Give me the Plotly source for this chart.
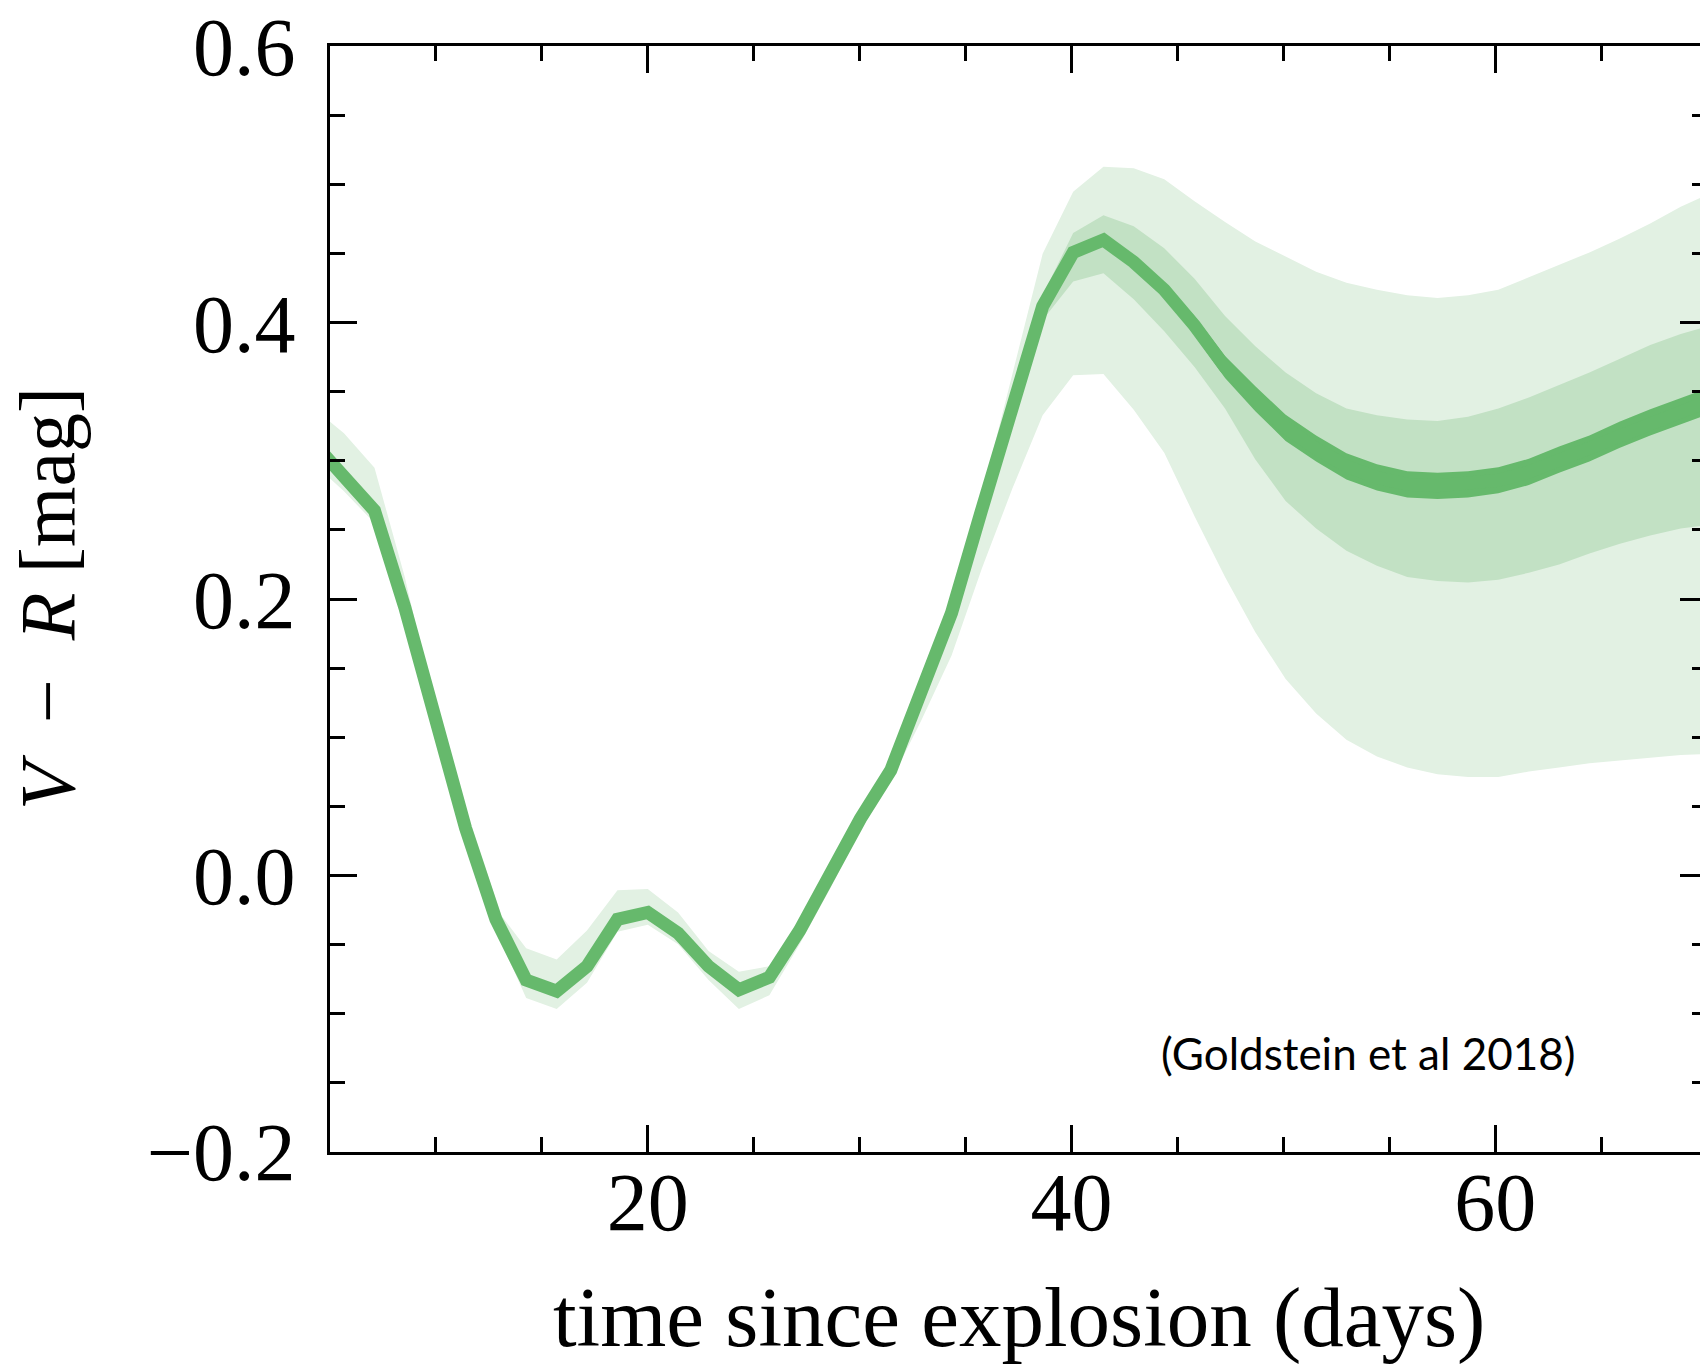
import plotly.graph_objects as go

# ---- data ----
days = [4.23, 5.66, 7.10, 8.53, 9.96, 11.40, 12.83, 14.26, 15.70, 17.13, 18.57, 20.00,
        21.43, 22.87, 24.30, 25.74, 27.17, 28.60, 30.04, 31.47, 32.91, 34.34, 35.77, 37.21,
        38.64, 40.08, 41.51, 42.94, 44.38, 45.81, 47.25, 48.68, 50.11, 51.55, 52.98, 54.42,
        55.85, 57.28, 58.72, 60.15, 61.59, 63.02, 64.45, 65.89, 67.32, 68.76, 70.19]

median = [0.313, 0.289, 0.264, 0.194, 0.112, 0.034, -0.032, -0.076, -0.084, -0.066, -0.032, -0.027,
          -0.042, -0.066, -0.083, -0.074, -0.040, 0.002, 0.041, 0.076, 0.131, 0.190, 0.265, 0.340,
          0.412, 0.451, 0.460, 0.444, 0.424, 0.398, 0.368, 0.345, 0.324, 0.309, 0.296, 0.288,
          0.283, 0.282, 0.283, 0.286, 0.292, 0.301, 0.309, 0.319, 0.328, 0.336, 0.344]

outer_hi = [0.338, 0.320, 0.295, 0.216, 0.120, 0.040, -0.024, -0.053, -0.061, -0.040, -0.011, -0.010,
            -0.027, -0.055, -0.070, -0.066, -0.035, 0.006, 0.045, 0.080, 0.136, 0.196, 0.275, 0.362,
            0.450, 0.495, 0.513, 0.512, 0.504, 0.488, 0.473, 0.459, 0.448, 0.437, 0.429, 0.424,
            0.420, 0.418, 0.420, 0.424, 0.433, 0.442, 0.451, 0.461, 0.472, 0.484, 0.494]

outer_lo = [0.298, 0.278, 0.255, 0.186, 0.104, 0.026, -0.040, -0.089, -0.097, -0.078, -0.041, -0.036,
            -0.050, -0.076, -0.097, -0.087, -0.050, -0.010, 0.033, 0.068, 0.112, 0.159, 0.222, 0.280,
            0.333, 0.362, 0.363, 0.337, 0.306, 0.260, 0.216, 0.176, 0.142, 0.117, 0.098, 0.086,
            0.078, 0.073, 0.071, 0.071, 0.075, 0.078, 0.081, 0.083, 0.085, 0.087, 0.088]

# inner bands only exist from day ~35.8 onward
inner_days = [35.77, 37.21, 38.64, 40.08, 41.51, 42.94, 44.38, 45.81, 47.25, 48.68, 50.11, 51.55,
              52.98, 54.42, 55.85, 57.28, 58.72, 60.15, 61.59, 63.02, 64.45, 65.89, 67.32, 68.76, 70.19]

mid_hi = [0.267, 0.345, 0.420, 0.465, 0.478, 0.470, 0.454, 0.432, 0.405, 0.383, 0.364, 0.349,
          0.338, 0.333, 0.330, 0.329, 0.332, 0.338, 0.346, 0.355, 0.364, 0.374, 0.384, 0.392, 0.398]
mid_lo = [0.263, 0.335, 0.402, 0.430, 0.436, 0.417, 0.394, 0.368, 0.338, 0.301, 0.271, 0.251,
          0.235, 0.224, 0.216, 0.213, 0.212, 0.214, 0.219, 0.225, 0.233, 0.240, 0.246, 0.251, 0.254]

dark_hi = [0.265, 0.340, 0.412, 0.451, 0.460, 0.446, 0.429, 0.405, 0.376, 0.354, 0.3335, 0.3185,
           0.3055, 0.2975, 0.2925, 0.2915, 0.2925, 0.2955, 0.3015, 0.3105, 0.3185, 0.3285, 0.3375,
           0.3455, 0.3535]
dark_lo = [0.265, 0.340, 0.412, 0.451, 0.460, 0.442, 0.419, 0.391, 0.360, 0.336, 0.3145, 0.2995,
           0.2865, 0.2785, 0.2735, 0.2725, 0.2735, 0.2765, 0.2825, 0.2915, 0.2995, 0.3095, 0.3185,
           0.3265, 0.3345]

x_ticks = [20, 40, 60]
y_ticks = [-0.2, 0.0, 0.2, 0.4, 0.6]

# ---- styles ----
C_LIGHT = "rgb(226,241,227)"
C_MID = "rgb(194,225,196)"
C_DARK = "rgb(102,185,108)"
SERIF = "Liberation Serif, DejaVu Serif, serif"

fig = go.Figure()


def band(xs, lo, hi, color, name):
    fig.add_trace(go.Scatter(
        x=list(xs) + list(xs)[::-1],
        y=list(hi) + list(lo)[::-1],
        fill="toself", fillcolor=color,
        line=dict(width=0, color=color),
        mode="lines", hoverinfo="skip", showlegend=False, name=name))


band(days, outer_lo, outer_hi, C_LIGHT, "outer")
band(inner_days, mid_lo, mid_hi, C_MID, "middle")
band(inner_days, dark_lo, dark_hi, C_DARK, "inner")

fig.add_trace(go.Scatter(x=days, y=median, mode="lines",
                         line=dict(color=C_DARK, width=13),
                         showlegend=False, name="median"))

axis_common = dict(
    showline=True, linecolor="black", linewidth=3, mirror="allticks",
    ticks="inside", ticklen=27, tickwidth=3, tickcolor="black",
    showgrid=False, zeroline=False, ticklabeloverflow="allow",
    tickfont=dict(family=SERIF, size=82, color="black"),
)

fig.update_xaxes(range=[5, 70], tickvals=x_ticks, ticklabelstandoff=-23,
                 minor=dict(ticks="inside", ticklen=15, tickwidth=3, tickcolor="black",
                            dtick=5, tick0=0, showgrid=False),
                 **axis_common)
fig.update_yaxes(range=[-0.2005, 0.6005], tickvals=y_ticks, tickformat=".1f", ticklabelstandoff=15,
                 minor=dict(ticks="inside", ticklen=15, tickwidth=3, tickcolor="black",
                            dtick=0.05, tick0=0, showgrid=False),
                 **axis_common)

fig.update_layout(
    width=1708, height=1364,
    margin=dict(l=322, r=9, t=38, b=220, autoexpand=False),
    plot_bgcolor="white", paper_bgcolor="white",
    showlegend=False,
    annotations=[
        dict(text="time since explosion (days)", xref="paper", yref="paper",
             x=0.5, y=-0.150, xanchor="center", yanchor="middle", showarrow=False,
             font=dict(family=SERIF, size=85, color="black")),
        dict(text="<i>V</i>\u2002\u2212\u2002<i>R</i> [mag]", xref="paper", yref="paper",
             x=-0.2055, y=0.5, xanchor="center", yanchor="middle", textangle=-90,
             showarrow=False, font=dict(family=SERIF, size=78, color="black")),
        dict(text="(Goldstein et al 2018)", xref="paper", yref="paper",
             x=0.7538, y=0.0895, xanchor="center", yanchor="middle", showarrow=False,
             font=dict(family="Lato, Open Sans, sans-serif", size=44, color="black")),
    ],
)

fig.write_html("out.html")
